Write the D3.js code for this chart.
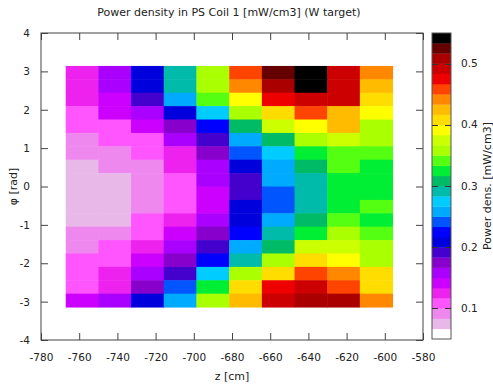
<!DOCTYPE html>
<html>
<head>
<meta charset="utf-8">
<script src="https://d3js.org/d3.v7.min.js"></script>
<style>
  body { margin: 0; background: #fff; }
  svg { display: block; font-family: "DejaVu Sans", sans-serif; }
</style>
</head>
<body>
<svg width="493" height="384"></svg>
<script>
// z bin centres [cm], one per column
const zCenters = [-758.5, -741.4, -724.3, -707.2, -690.1, -672.9, -655.8, -638.7, -621.6, -604.5];
const zBinWidth = 17.12;

// phi bin centres [rad], top row first
const phiCenters = [2.967, 2.618, 2.269, 1.920, 1.571, 1.222, 0.873, 0.524, 0.175,
  -0.175, -0.524, -0.873, -1.222, -1.571, -1.920, -2.269, -2.618, -2.967];
const phiBinWidth = 0.349;

// power density [mW/cm3], one row per phi bin (top row first), one value per z bin
const powerRows = [
  [0.125, 0.158, 0.208, 0.292, 0.358, 0.458, 0.525, 0.542, 0.492, 0.442],
  [0.125, 0.158, 0.208, 0.292, 0.358, 0.442, 0.508, 0.542, 0.492, 0.425],
  [0.125, 0.142, 0.192, 0.258, 0.342, 0.392, 0.475, 0.492, 0.492, 0.408],
  [0.108, 0.142, 0.158, 0.208, 0.275, 0.358, 0.408, 0.458, 0.425, 0.392],
  [0.108, 0.108, 0.142, 0.175, 0.225, 0.308, 0.375, 0.392, 0.425, 0.358],
  [0.092, 0.108, 0.108, 0.158, 0.192, 0.258, 0.308, 0.358, 0.375, 0.358],
  [0.092, 0.092, 0.108, 0.125, 0.175, 0.242, 0.275, 0.325, 0.342, 0.342],
  [0.075, 0.092, 0.092, 0.125, 0.158, 0.208, 0.258, 0.308, 0.342, 0.325],
  [0.075, 0.075, 0.092, 0.108, 0.158, 0.192, 0.258, 0.292, 0.325, 0.325],
  [0.075, 0.075, 0.092, 0.108, 0.142, 0.192, 0.242, 0.292, 0.325, 0.325],
  [0.075, 0.075, 0.092, 0.108, 0.142, 0.208, 0.242, 0.292, 0.325, 0.342],
  [0.075, 0.075, 0.108, 0.125, 0.158, 0.208, 0.258, 0.308, 0.342, 0.325],
  [0.092, 0.092, 0.108, 0.142, 0.175, 0.225, 0.292, 0.325, 0.358, 0.342],
  [0.092, 0.108, 0.125, 0.158, 0.192, 0.258, 0.308, 0.375, 0.375, 0.358],
  [0.108, 0.108, 0.142, 0.175, 0.225, 0.292, 0.358, 0.408, 0.392, 0.358],
  [0.108, 0.125, 0.158, 0.192, 0.275, 0.358, 0.408, 0.458, 0.442, 0.408],
  [0.108, 0.125, 0.175, 0.242, 0.325, 0.408, 0.475, 0.492, 0.458, 0.408],
  [0.142, 0.158, 0.208, 0.258, 0.358, 0.425, 0.492, 0.508, 0.508, 0.442]
];

const xTicks = [-780, -760, -740, -720, -700, -680, -660, -640, -620, -600, -580];
const yTicks = [-4, -3, -2, -1, 0, 1, 2, 3, 4];
const cbTicks = [0.1, 0.2, 0.3, 0.4, 0.5];
const cbDomain = [0.05, 0.55];

// discrete palette, low to high
const paletteColors = [
  "#ffffff", "#e8b8e8", "#ee88ee", "#ff55ff", "#ee22ee", "#cc00ff",
  "#aa00ff", "#8800cc", "#4400cc", "#0000dd", "#0000ff", "#0055ff",
  "#00aaff", "#00ccff", "#00bbaa", "#00bb66", "#00ee33", "#55ff11",
  "#aaff00", "#ccff00", "#ffff00", "#ffdd00", "#ffbb00", "#ff8800",
  "#ff4400", "#ee0000", "#cc0000", "#aa0000", "#660000", "#000000"
];

HeatMap = function() {
  this.initVis();
};

HeatMap.prototype.initVis = function() {
  let vis = this;

  vis.svg = d3.select("svg");
  vis.left = 41;
  vis.right = 423;
  vis.top = 33;
  vis.bottom = 340;

  vis.x = d3.scaleLinear().domain([-780, -580]).range([vis.left, vis.right]);
  vis.y = d3.scaleLinear().domain([-4, 4]).range([vis.bottom, vis.top]);

  vis.color = d3.scaleQuantize().domain(cbDomain).range(paletteColors);
  vis.cbY = d3.scaleLinear().domain(cbDomain).range([339, 33]);

  vis.svg.append("rect")
    .attr("width", 493).attr("height", 384).attr("fill", "#fff");

  // title
  vis.svg.append("text")
    .attr("x", 229)
    .attr("y", 16)
    .attr("font-size", "11px")
    .attr("text-anchor", "middle")
    .attr("fill", "#222")
    .text("Power density in PS Coil 1 [mW/cm3] (W target)");

  vis.renderVis();
};

HeatMap.prototype.renderVis = function() {
  let vis = this;

  // flatten into cells
  let cells = [];
  powerRows.forEach(function(row, i) {
    row.forEach(function(v, j) {
      cells.push({ z: zCenters[j], phi: phiCenters[i], value: v });
    });
  });

  vis.svg.append("g")
    .attr("class", "cells")
    .selectAll("rect")
    .data(cells)
    .enter()
    .append("rect")
    .attr("x", function(d) { return vis.x(d.z - zBinWidth / 2); })
    .attr("y", function(d) { return vis.y(d.phi + phiBinWidth / 2); })
    .attr("width", function(d) { return vis.x(d.z + zBinWidth / 2) - vis.x(d.z - zBinWidth / 2) + 0.5; })
    .attr("height", function(d) { return vis.y(d.phi - phiBinWidth / 2) - vis.y(d.phi + phiBinWidth / 2) + 0.5; })
    .attr("fill", function(d) { return vis.color(d.value); });

  // axes, ticks pointing inward on all sides
  let tickLen = -7;
  let axisColor = "#444";
  let plain = function(d) { return String(d); };

  let gx = vis.svg.append("g")
    .attr("transform", "translate(0," + vis.bottom + ")")
    .call(d3.axisBottom(vis.x).tickValues(xTicks).tickFormat(plain)
      .tickSizeInner(tickLen).tickSizeOuter(0).tickPadding(14));
  let gxTop = vis.svg.append("g")
    .attr("transform", "translate(0," + vis.top + ")")
    .call(d3.axisTop(vis.x).tickValues(xTicks).tickSizeInner(tickLen).tickSizeOuter(0).tickFormat(""));
  let gy = vis.svg.append("g")
    .attr("transform", "translate(" + vis.left + ",0)")
    .call(d3.axisLeft(vis.y).tickValues(yTicks).tickFormat(plain)
      .tickSizeInner(tickLen).tickSizeOuter(0).tickPadding(11));
  let gyRight = vis.svg.append("g")
    .attr("transform", "translate(" + vis.right + ",0)")
    .call(d3.axisRight(vis.y).tickValues(yTicks).tickSizeInner(tickLen).tickSizeOuter(0).tickFormat(""));

  [gx, gxTop, gy, gyRight].forEach(function(g) {
    g.select(".domain").remove();
    g.selectAll(".tick line").attr("stroke", axisColor);
    g.selectAll(".tick text")
      .attr("font-size", "10.5px")
      .attr("font-family", "DejaVu Sans, sans-serif")
      .attr("fill", "#222");
  });

  vis.svg.append("rect")
    .attr("x", vis.left)
    .attr("y", vis.top)
    .attr("width", vis.right - vis.left)
    .attr("height", vis.bottom - vis.top)
    .attr("fill", "none")
    .attr("stroke", axisColor);

  // axis labels
  vis.svg.append("text")
    .attr("x", (vis.left + vis.right) / 2)
    .attr("y", 380)
    .attr("font-size", "11px")
    .attr("text-anchor", "middle")
    .attr("fill", "#222")
    .text("z [cm]");

  vis.svg.append("text")
    .attr("transform", "translate(17," + (vis.top + vis.bottom) / 2 + ") rotate(-90)")
    .attr("font-size", "11px")
    .attr("text-anchor", "middle")
    .attr("fill", "#222")
    .text("φ [rad]");

  // colour box
  let cbX = 432, cbW = 19;
  let cb = vis.svg.append("g").attr("class", "colorbox");

  cb.selectAll("rect")
    .data(vis.color.range())
    .enter()
    .append("rect")
    .attr("x", cbX)
    .attr("width", cbW)
    .attr("y", function(c) { return vis.cbY(vis.color.invertExtent(c)[1]); })
    .attr("height", function(c) {
      let e = vis.color.invertExtent(c);
      return vis.cbY(e[0]) - vis.cbY(e[1]) + 0.3;
    })
    .attr("fill", function(c) { return c; });

  cb.append("rect")
    .attr("x", cbX)
    .attr("y", vis.cbY(cbDomain[1]))
    .attr("width", cbW)
    .attr("height", vis.cbY(cbDomain[0]) - vis.cbY(cbDomain[1]))
    .attr("fill", "none")
    .attr("stroke", "#555");

  cbTicks.forEach(function(t) {
    let ty = Math.round(vis.cbY(t)) + 0.5;
    cb.append("line")
      .attr("x1", cbX).attr("x2", cbX + 6)
      .attr("y1", ty).attr("y2", ty)
      .attr("stroke", "#333");
    cb.append("line")
      .attr("x1", cbX + cbW - 6).attr("x2", cbX + cbW)
      .attr("y1", ty).attr("y2", ty)
      .attr("stroke", "#333");
    cb.append("text")
      .attr("x", 461)
      .attr("y", vis.cbY(t))
      .attr("dy", "0.35em")
      .attr("font-size", "10.5px")
      .attr("fill", "#222")
      .text(t.toFixed(1));
  });

  vis.svg.append("text")
    .attr("transform", "translate(491," + vis.cbY(0.3) + ") rotate(-90)")
    .attr("font-size", "11px")
    .attr("text-anchor", "middle")
    .attr("fill", "#222")
    .text("Power dens. [mW/cm3]");
};

new HeatMap();
</script>
</body>
</html>
